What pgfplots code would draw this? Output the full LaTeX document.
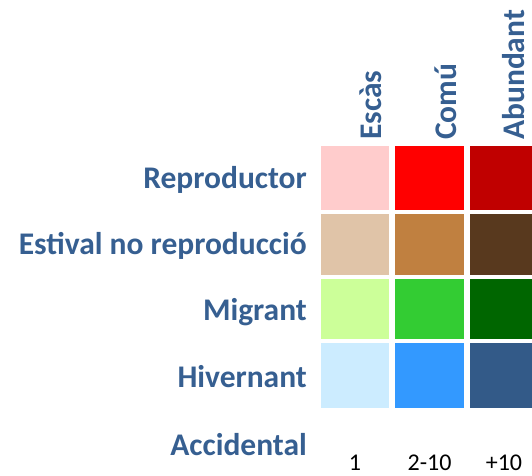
\documentclass[border=0pt]{standalone}
\usepackage{pgfplots}
\pgfplotsset{compat=1.18}
\usepackage{fontspec}
\setmainfont{Carlito}
\definecolor{lab}{HTML}{365F91}
\definecolor{r1}{HTML}{FFCCCC}
\definecolor{r2}{HTML}{FF0000}
\definecolor{r3}{HTML}{C00000}
\definecolor{e1}{HTML}{E0C4A8}
\definecolor{e2}{HTML}{C08040}
\definecolor{e3}{HTML}{58391E}
\definecolor{m1}{HTML}{CCFF99}
\definecolor{m2}{HTML}{33CC33}
\definecolor{m3}{HTML}{006600}
\definecolor{h1}{HTML}{CCECFF}
\definecolor{h2}{HTML}{3399FF}
\definecolor{h3}{HTML}{335A88}
\begin{document}
\begin{tikzpicture}
\begin{axis}[
  at={(0,0)}, anchor=south west,
  scale only axis, width=532pt, height=475pt,
  xmin=0, xmax=532, ymin=0, ymax=475, y dir=reverse,
  axis lines=none, clip mode=individual,
  every axis plot/.append style={draw=none},
]
% Reproductor
\addplot[fill=r1] coordinates {(321,146) (389,146) (389,210) (321,210)} -- cycle;
\addplot[fill=r2] coordinates {(395,146) (464,146) (464,210) (395,210)} -- cycle;
\addplot[fill=r3] coordinates {(470,146) (539,146) (539,210) (470,210)} -- cycle;
% Estival
\addplot[fill=e1] coordinates {(321,214) (389,214) (389,275) (321,275)} -- cycle;
\addplot[fill=e2] coordinates {(395,214) (464,214) (464,275) (395,275)} -- cycle;
\addplot[fill=e3] coordinates {(470,214) (539,214) (539,275) (470,275)} -- cycle;
% Migrant
\addplot[fill=m1] coordinates {(321,279) (389,279) (389,339) (321,339)} -- cycle;
\addplot[fill=m2] coordinates {(395,279) (464,279) (464,339) (395,339)} -- cycle;
\addplot[fill=m3] coordinates {(470,279) (539,279) (539,339) (470,339)} -- cycle;
% Hivernant
\addplot[fill=h1] coordinates {(321,343) (389,343) (389,408) (321,408)} -- cycle;
\addplot[fill=h2] coordinates {(395,343) (464,343) (464,408) (395,408)} -- cycle;
\addplot[fill=h3] coordinates {(470,343) (539,343) (539,408) (470,408)} -- cycle;

\begin{scope}[every node/.style={text=lab, font=\fontsize{31.5}{36}\selectfont\bfseries, inner sep=0pt}]
\node[anchor=base east] at (axis cs:307,188) {Reproductor};
\node[anchor=base east] at (axis cs:307,254) {Estival no reproducció};
\node[anchor=base east] at (axis cs:307,320) {Migrant};
\node[anchor=base east] at (axis cs:307,387) {Hivernant};
\node[anchor=base east] at (axis cs:307,455) {Accidental};
\node[anchor=base west, rotate=90] at (axis cs:381,140) {Escàs};
\node[anchor=base west, rotate=90] at (axis cs:456,140) {Comú};
\node[anchor=base west, rotate=90] at (axis cs:524,140) {Abundant};
\end{scope}
\begin{scope}[every node/.style={text=black, font=\fontsize{24}{28}\selectfont, inner sep=0pt}]
\node[anchor=base] at (axis cs:355,470) {1};
\node[anchor=base] at (axis cs:429.5,470) {2-10};
\node[anchor=base] at (axis cs:504,470) {+10};
\end{scope}
\end{axis}
\pgfresetboundingbox
\path (0,0) rectangle (532pt,475pt);
\end{tikzpicture}
\end{document}
